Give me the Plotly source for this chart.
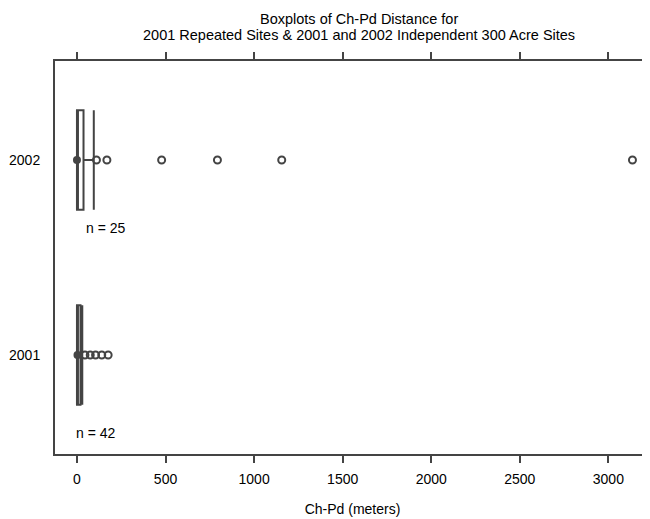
import plotly.graph_objects as go

# Data
groups = ["2001", "2002"]
ypos = [1, 2]
q1 = [0, 0]
median = [3, 0]
q3 = [20, 37]
lower_whisker = [0, 0]
upper_whisker = [30, 95]
outliers_2001 = [45, 75, 105, 140, 176]
outliers_2002 = [110, 169, 478, 793, 1156, 3136]
counts = [42, 25]
xticks = [0, 500, 1000, 1500, 2000, 2500, 3000]
title_lines = ["Boxplots of Ch-Pd Distance for",
               "2001 Repeated Sites & 2001 and 2002 Independent 300 Acre Sites"]

line_col = "#444444"
text_col = "#000000"
font = "Liberation Sans, Arial, sans-serif"

fig = go.Figure()
for i in range(2):
    fig.add_trace(go.Box(
        y=[ypos[i]], orientation="h",
        q1=[q1[i]], median=[median[i]], q3=[q3[i]],
        lowerfence=[lower_whisker[i]], upperfence=[upper_whisker[i]],
        width=0.51, whiskerwidth=1,
        fillcolor="rgba(0,0,0,0)",
        line=dict(color=line_col, width=2),
        boxpoints=False, showlegend=False, hoverinfo="skip",
    ))

# median dots
fig.add_trace(go.Scatter(
    x=median, y=ypos, mode="markers",
    marker=dict(symbol="circle", size=8, color=line_col),
    showlegend=False,
))

# outliers
for yv, pts in [(1, outliers_2001), (2, outliers_2002)]:
    fig.add_trace(go.Scatter(
        x=pts, y=[yv] * len(pts), mode="markers",
        marker=dict(symbol="circle-open", size=7, color=line_col,
                    line=dict(width=2, color=line_col)),
        showlegend=False,
    ))

# n = labels
for yv, n in zip(ypos, counts):
    fig.add_annotation(
        x=162 if yv == 2 else 105, y=yv - (0.35 if yv == 2 else 0.4), xref="x", yref="y",
        text=f"n = {n}", showarrow=False, xanchor="center",
        font=dict(family=font, size=14, color=text_col),
    )

# two-line title as annotations (tighter line spacing)
for line, yp in zip(title_lines, [1.1069, 1.0662]):
    fig.add_annotation(
        x=0.5, y=yp, xref="paper", yref="paper", xshift=6,
        text=line, showarrow=False, xanchor="center", yanchor="middle",
        font=dict(family=font, size=14.5, color=text_col),
    )

# page body has an 8px margin, so the figure is sized/offset to compensate
fig.update_layout(
    width=642, height=511,
    margin=dict(l=47, r=0, t=53, b=65),
    plot_bgcolor="white", paper_bgcolor="white",
    font=dict(family=font, size=14, color=text_col),
)
fig.update_xaxes(
    range=[-124, 3235], tickvals=xticks, ticktext=[str(t) for t in xticks],
    ticks="outside", ticklen=7, tickcolor=line_col, tickwidth=1.5,
    showline=True, linecolor=line_col, linewidth=2, mirror="ticks",
    showgrid=False, zeroline=False, automargin=False,
    ticklabelstandoff=4,
    title=dict(text="Ch-Pd (meters)", standoff=18, font=dict(family=font, size=14)),
)
fig.update_yaxes(
    range=[0.492, 2.508], tickvals=ypos, ticktext=groups,
    ticks="", showline=True, linecolor=line_col, linewidth=2, mirror=True,
    showgrid=False, zeroline=False, ticklabelstandoff=10, automargin=False,
)

fig.write_html("out.html")
